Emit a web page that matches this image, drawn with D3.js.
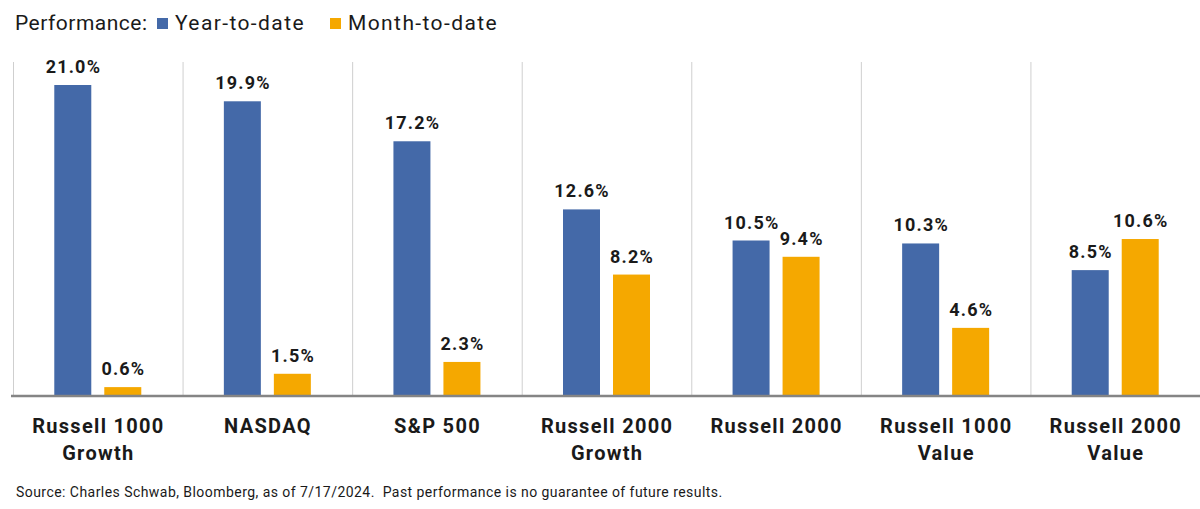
<!DOCTYPE html>
<html>
<head>
<meta charset="utf-8">
<script src="https://cdn.jsdelivr.net/npm/d3@7"></script>
<style>
  body { margin: 0; background: #fff; }
  svg { display: block; font-family: Roboto, "Noto Sans", sans-serif; }
  .value-label { font-weight: 700; font-size: 18px; letter-spacing: 1.2px; fill: #1a1a1a; }
  .cat-label { font-weight: 700; font-size: 20px; letter-spacing: 1.3px; fill: #1a1a1a; }
  .legend-text { font-size: 21px; letter-spacing: 0.5px; fill: #1a1a1a; }
  .legend-item text { letter-spacing: 1.4px; }
  .source { font-size: 14px; letter-spacing: 0.45px; fill: #1a1a1a; }
</style>
</head>
<body>
<div id="chart"></div>
<script>
const categories = [
  ['Russell 1000', 'Growth'],
  ['NASDAQ'],
  ['S&P 500'],
  ['Russell 2000', 'Growth'],
  ['Russell 2000'],
  ['Russell 1000', 'Value'],
  ['Russell 2000', 'Value']
];
const yearToDate = [21.0, 19.9, 17.2, 12.6, 10.5, 10.3, 8.5];
const monthToDate = [0.6, 1.5, 2.3, 8.2, 9.4, 4.6, 10.6];
const seriesNames = ['Year-to-date', 'Month-to-date'];
const seriesColors = ['#4469a8', '#f5a800'];

const width = 1200, height = 509;
const margin = { top: 62, right: 0, bottom: 113, left: 13 };
const baseline = height - margin.bottom; // 396

const svg = d3.select('#chart').append('svg')
  .attr('width', width)
  .attr('height', height);

const x = d3.scaleBand()
  .domain(d3.range(categories.length))
  .range([margin.left, width - margin.right])
  .paddingInner(0)
  .paddingOuter(0);

const y = d3.scaleLinear()
  .domain([0, 21])
  .range([baseline, 85]);

const barWidth = 37, barGap = 13;

// Legend
const legend = svg.append('g').attr('class', 'legend');
legend.append('text')
  .attr('class', 'legend-text')
  .attr('x', 15).attr('y', 30)
  .text('Performance:');
const legendItems = [
  { name: seriesNames[0], color: seriesColors[0], x: 157 },
  { name: seriesNames[1], color: seriesColors[1], x: 330 }
];
legend.selectAll('.legend-item')
  .data(legendItems)
  .join('g')
  .attr('class', 'legend-item')
  .attr('transform', d => `translate(${d.x},0)`)
  .each(function (d) {
    const g = d3.select(this);
    g.append('rect')
      .attr('x', 0).attr('y', 18)
      .attr('width', 11).attr('height', 11)
      .attr('fill', d.color);
    g.append('text')
      .attr('class', 'legend-text')
      .attr('x', 18).attr('y', 30)
      .text(d.name);
  });

// Category separators
svg.append('g')
  .selectAll('line')
  .data(d3.range(categories.length))
  .join('line')
  .attr('x1', i => x(i) + 0.5)
  .attr('x2', i => x(i) + 0.5)
  .attr('y1', margin.top)
  .attr('y2', baseline)
  .attr('stroke', '#cfcfcf')
  .attr('stroke-width', 1);

// Bars
const groups = svg.append('g')
  .selectAll('.group')
  .data(categories.map((c, i) => ({ i, values: [yearToDate[i], monthToDate[i]] })))
  .join('g')
  .attr('class', 'group');

groups.each(function (d) {
  const g = d3.select(this);
  const center = x(d.i) + x.bandwidth() / 2;
  d.values.forEach((v, s) => {
    const bx = s === 0 ? center - barGap / 2 - barWidth : center + barGap / 2;
    g.append('rect')
      .attr('x', bx)
      .attr('y', y(v))
      .attr('width', barWidth)
      .attr('height', baseline - y(v))
      .attr('fill', seriesColors[s]);
    g.append('text')
      .attr('class', 'value-label')
      .attr('x', bx + barWidth / 2 + 0.6)
      .attr('y', y(v) - 12)
      .attr('text-anchor', 'middle')
      .text(v.toFixed(1) + '%');
  });
});

// Baseline
svg.append('line')
  .attr('x1', 11).attr('x2', width)
  .attr('y1', baseline).attr('y2', baseline)
  .attr('stroke', '#858585')
  .attr('stroke-width', 2.5);

// Category labels
svg.append('g')
  .selectAll('.cat-label')
  .data(categories)
  .join('text')
  .attr('class', 'cat-label')
  .attr('text-anchor', 'middle')
  .attr('x', (d, i) => x(i) + x.bandwidth() / 2 + 0.6)
  .attr('y', 433)
  .each(function (d) {
    d3.select(this).selectAll('tspan')
      .data(d)
      .join('tspan')
      .attr('x', d3.select(this).attr('x'))
      .attr('dy', (t, j) => j === 0 ? 0 : 27)
      .text(t => t);
  });

// Source note
svg.append('text')
  .attr('class', 'source')
  .attr('x', 16).attr('y', 497)
  .attr('xml:space', 'preserve')
  .text('Source: Charles Schwab, Bloomberg, as of 7/17/2024.  Past performance is no guarantee of future results.');
</script>
</body>
</html>
